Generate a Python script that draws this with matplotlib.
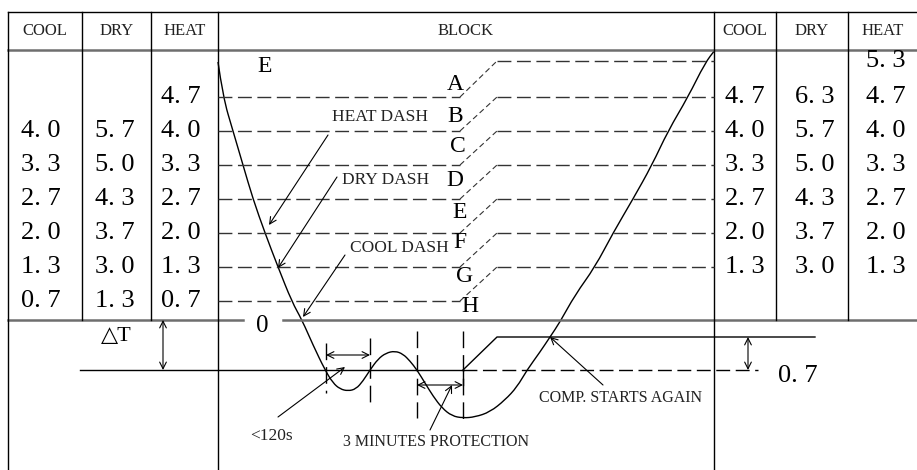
import matplotlib
matplotlib.use('Agg')
import matplotlib.pyplot as plt
from matplotlib.path import Path
from matplotlib.patches import PathPatch

# ---- chart data ----
left_headers = ['COOL', 'DRY', 'HEAT']
right_headers = ['COOL', 'DRY', 'HEAT']
block_header = 'BLOCK'

# set values per row, top to bottom (None = empty cell)
left_cool = [None, None, 4.0, 3.3, 2.7, 2.0, 1.3, 0.7]
left_dry = [None, None, 5.7, 5.0, 4.3, 3.7, 3.0, 1.3]
left_heat = [None, 4.7, 4.0, 3.3, 2.7, 2.0, 1.3, 0.7]
right_cool = [None, 4.7, 4.0, 3.3, 2.7, 2.0, 1.3, None]
right_dry = [None, 6.3, 5.7, 5.0, 4.3, 3.7, 3.0, None]
right_heat = [5.3, 4.7, 4.0, 3.3, 2.7, 2.0, 1.3, None]
zone_letters = ['A', 'B', 'C', 'D', 'E', 'F', 'G', 'H']
delta_t = 0.7

# room temperature curve (pixel units)
curve_x = [218, 223, 233, 243, 253, 265, 278, 292, 302, 313, 325, 333, 340, 348,
           356, 363, 370, 378, 386, 395, 403, 410, 417, 425, 433, 442, 452, 463,
           475, 490, 505, 517, 527, 540, 550, 560, 575, 595, 613, 633, 652, 668,
           688, 705, 715]
curve_y = [62, 97, 131, 165, 199, 233, 267, 302, 320, 345, 370, 383, 389, 391,
           389, 381, 370, 359, 353, 351, 354, 361, 370, 383, 396, 408, 416, 418,
           417, 412, 400, 387, 370, 352, 337, 322, 295, 267, 233, 199, 165, 131,
           97, 63, 50]

# ---- layout (pixels) ----
W, H = 917, 470
row_y = [61, 97, 131, 165, 199, 233, 267, 301]
left_cols = [8, 82, 151, 218]
right_cols = [714, 776, 848, 917]
top_y, head_y, base_y = 12, 50, 320
dt_y, comp_y = 370, 337

fig = plt.figure(figsize=(W / 100, H / 100), dpi=100)
ax = fig.add_axes([0, 0, 1, 1])
ax.set_xlim(0, W)
ax.set_ylim(H, 0)
ax.axis('off')

serif = ['Liberation Serif', 'DejaVu Sans']
dash = (0, (10, 4))
vdash = (0, (12, 5))
grey = '#6e6e6e'

# table frame
ax.plot([8, W], [top_y, top_y], color='black', lw=1)
ax.plot([8, W], [head_y, head_y], color=grey, lw=1.8)
ax.plot([8, 243], [base_y, base_y], color=grey, lw=1.8)
ax.plot([283, W], [base_y, base_y], color=grey, lw=1.8)
for x in [8, 218, 714]:
    ax.plot([x, x], [top_y, H], color='black', lw=1)
for x in [82, 151, 776, 848]:
    ax.plot([x, x], [top_y, base_y], color='black', lw=1)

# headers
hdr = dict(ha='center', va='center', fontsize=12, family=serif, color='#222222')
for i, h in enumerate(left_headers):
    ax.text((left_cols[i] + left_cols[i + 1]) / 2, 31, h, **hdr)
for i, h in enumerate(right_headers):
    ax.text((right_cols[i] + right_cols[i + 1]) / 2, 31, h, **hdr)
ax.text(466, 31, block_header, **hdr)


def fmt(v):
    return f'{v:.1f}'.replace('.', '. ')


def col_text(vals, xc):
    for yy, v in zip(row_y, vals):
        if v is not None:
            ax.text(xc, yy, fmt(v), ha='center', va='center', fontsize=19, family=serif)


col_text(left_cool, 41)
col_text(left_dry, 115)
col_text(left_heat, 181)
col_text(right_cool, 745)
col_text(right_dry, 815)
col_text(right_heat, 886)

# zone dashed lines with step connectors
for i in range(1, len(row_y)):
    ax.plot([218, 460], [row_y[i], row_y[i]], color='#333333', lw=1, ls=dash)
    ax.plot([460, 497], [row_y[i], row_y[i - 1]], color='#333333', lw=0.8, ls=(0, (5, 3)))
    ax.plot([497, 714], [row_y[i - 1], row_y[i - 1]], color='#333333', lw=1, ls=dash)

letter_pos = [(455, 85), (455, 116), (458, 147), (455, 180), (460, 212),
              (460, 243), (465, 277), (470, 307)]
for (lx, ly), s in zip(letter_pos, zone_letters):
    ax.text(lx, ly, s, ha='center', va='center', fontsize=17, family=serif)
ax.text(265, 67, 'E', ha='center', va='center', fontsize=17, family=serif)
ax.text(262, 326, '0', ha='center', va='center', fontsize=18, family=serif)

# temperature curve, smoothed with quadratic segments through the midpoints
pts = list(zip(curve_x, curve_y))
verts = [pts[0]]
codes = [Path.MOVETO]
for k in range(1, len(pts) - 1):
    mid = ((pts[k][0] + pts[k + 1][0]) / 2, (pts[k][1] + pts[k + 1][1]) / 2)
    verts += [pts[k], mid]
    codes += [Path.CURVE3, Path.CURVE3]
verts.append(pts[-1])
codes.append(Path.LINETO)
ax.add_patch(PathPatch(Path(verts, codes), fill=False, edgecolor='black', lw=1))

# delta T reference line and compressor restart level
ax.plot([80, 463], [dt_y, dt_y], color='black', lw=1)
ax.plot([463, 758], [dt_y, dt_y], color='black', lw=1, ls=dash)
ax.plot([463, 497, 815], [dt_y, comp_y, comp_y], color='black', lw=1)
ax.plot([463, 463], [dt_y, 385], color='black', lw=1)

# vertical dashed timing marks
for x, y0, y1 in [(326, 343, 393), (370, 338, 408), (417, 331, 418), (463, 331, 423)]:
    ax.plot([x, x], [y0, y1], color='black', lw=1, ls=vdash)

arr = dict(lw=0.8, color='black', shrinkA=0, shrinkB=0, mutation_scale=12)


def arrow(tip, tail, style='->'):
    ax.annotate('', xy=tip, xytext=tail, arrowprops=dict(arrowstyle=style, **arr))


# double arrows
arrow((370, 355), (326, 355), '<->')
arrow((463, 385), (417, 385), '<->')
arrow((163, dt_y), (163, base_y), '<->')
arrow((748, dt_y), (748, comp_y), '<->')

# labelled arrows
arrow((269, 225), (328, 135))
arrow((278, 268), (337, 177))
arrow((303, 317), (345, 255))
arrow((345, 367), (278, 417))
arrow((452, 385), (430, 430))
arrow((550, 337), (603, 385))

lab = dict(ha='left', va='center', fontsize=12.5, family=serif, color='#222222')
ax.text(332, 117, 'HEAT DASH', **lab)
ax.text(342, 180, 'DRY DASH', **lab)
ax.text(350, 248, 'COOL DASH', **lab)
ax.text(250, 436, '<120s', **lab)
small = dict(lab, fontsize=11.5)
ax.text(343, 442, '3 MINUTES PROTECTION', **small)
ax.text(539, 398, 'COMP. STARTS AGAIN', **small)
ax.text(116, 337, '\u25b3T', ha='center', va='center', fontsize=16, family=serif)
ax.text(798, 376, fmt(delta_t), ha='center', va='center', fontsize=19, family=serif)

fig.savefig('out.png', dpi=100)
